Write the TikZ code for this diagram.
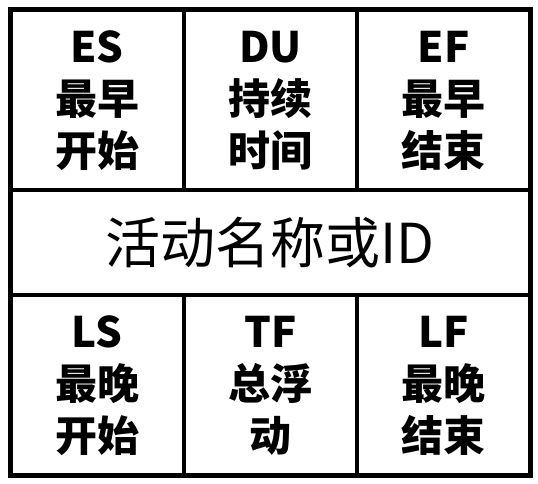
\documentclass[tikz,border=0pt]{standalone}
\usepackage{fontspec}
\newfontfamily\cjk{Noto Sans CJK SC}
\tikzset{
  field/.style={font=\cjk\bfseries\fontsize{42}{52}\selectfont, align=center, inner sep=0pt},
  title/.style={font=\cjk\fontsize{55}{60}\selectfont, inner sep=0pt}
}
\begin{document}
\begin{tikzpicture}[x=1pt,y=-1pt]
\useasboundingbox (0,0) rectangle (538,484);
\draw[line width=5pt] (10.5,10) rectangle (530,475);
\draw[line width=4pt] (10.5,190) -- (530,190);
\draw[line width=4pt] (10.5,295) -- (530,295);
\draw[line width=4pt] (184,10) -- (184,190);
\draw[line width=4pt] (357,10) -- (357,190);
\draw[line width=4pt] (184,295) -- (184,475);
\draw[line width=4pt] (357,295) -- (357,475);
\node[field] (es) at (97,101) {ES\\最早\\开始};
\node[field] (du) at (270.5,101) {DU\\持续\\时间};
\node[field] (ef) at (443.5,101) {EF\\最早\\结束};
\node[title] (name) at (270,243) {活动名称或ID};
\node[field] (ls) at (97,386) {LS\\最晚\\开始};
\node[field] (tf) at (270.5,386) {TF\\总浮\\动};
\node[field] (lf) at (443.5,386) {LF\\最晚\\结束};
\end{tikzpicture}
\end{document}
